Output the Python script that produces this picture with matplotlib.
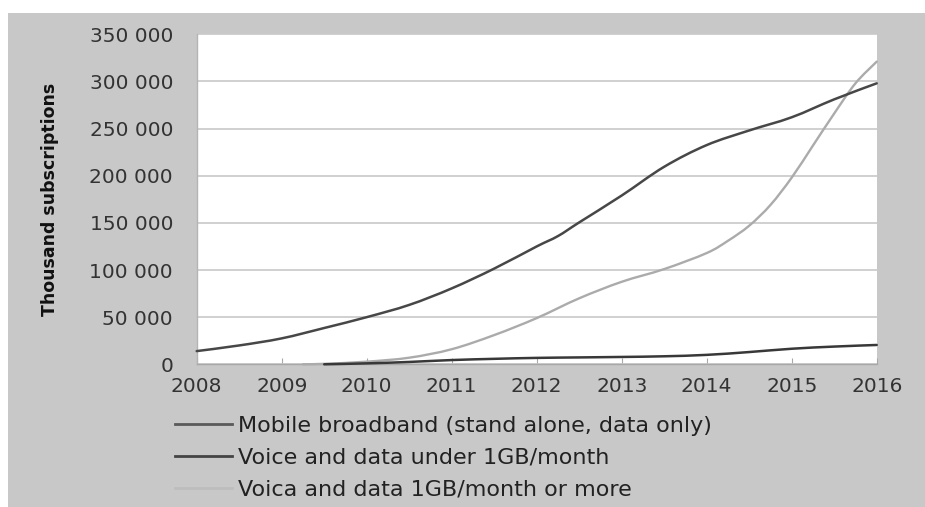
import matplotlib
matplotlib.use("Agg")
import matplotlib.pyplot as plt
from matplotlib.patches import Rectangle, PathPatch
from matplotlib.path import Path
from matplotlib.lines import Line2D
from matplotlib.ticker import FuncFormatter, MultipleLocator

# ---- data (thousand subscriptions) ----
mbb_x = [2008.0, 2008.5, 2009.0, 2009.5, 2010.0, 2010.5, 2011.0, 2011.5, 2012.0, 2012.25,
         2012.5, 2013.0, 2013.5, 2014.0, 2014.5, 2015.0, 2015.5, 2016.0]
mbb_y = [14000, 20000, 27500, 38500, 50000, 63000, 80500, 101500, 125000, 136000,
         150500, 179000, 209500, 232500, 248000, 262000, 281000, 298000]

low_x = [2009.5, 2010.0, 2010.5, 2011.0, 2011.5, 2012.0, 2012.5, 2013.0, 2013.5,
         2014.0, 2014.5, 2015.0, 2015.5, 2016.0]
low_y = [0, 1000, 2500, 4500, 5800, 6800, 7300, 7800, 8500,
         10000, 13000, 16500, 18800, 20500]

high_x = [2009.25, 2009.5, 2010.0, 2010.5, 2011.0, 2011.5, 2012.0, 2012.5, 2013.0, 2013.5,
          2014.0, 2014.25, 2014.5, 2014.75, 2015.0, 2015.25, 2015.5, 2015.75, 2016.0]
high_y = [0, 500, 2800, 7000, 16000, 31000, 49000, 70000, 87500, 101000,
          118000, 131000, 147000, 169000, 198000, 232000, 266000, 298000, 321000]

labels = ["Mobile broadband (stand alone, data only)",
          "Voice and data under 1GB/month",
          "Voica and data 1GB/month or more"]
years = list(range(2008, 2017))


def smooth_path(xs, ys):
    """Excel-like smoothed line through the data points (Catmull-Rom as cubic Beziers)."""
    pts = list(zip(xs, ys))
    n = len(pts)
    verts = [pts[0]]
    codes = [Path.MOVETO]
    for i in range(n - 1):
        p0 = pts[i - 1] if i > 0 else pts[i]
        p1 = pts[i]
        p2 = pts[i + 1]
        p3 = pts[i + 2] if i + 2 < n else pts[i + 1]
        c1 = (p1[0] + (p2[0] - p0[0]) / 6, p1[1] + (p2[1] - p0[1]) / 6)
        c2 = (p2[0] - (p3[0] - p1[0]) / 6, p2[1] - (p3[1] - p1[1]) / 6)
        verts += [c1, c2, p2]
        codes += [Path.CURVE4] * 3
    return Path(verts, codes)


W, H = 925, 507
fig = plt.figure(figsize=(W / 100, H / 100), dpi=100)
fig.patch.set_facecolor("white")
fig.patches.append(Rectangle((8 / W, 0), 1 - 8 / W, 1 - 12.7 / H, transform=fig.transFigure,
                             facecolor="#c8c8c8", edgecolor="none", zorder=-5))

ax = fig.add_axes([196.7 / W, 1 - 364.3 / H, 680 / W, 330 / H])
ax.set_zorder(2)
ax.set_facecolor("white")

series = [(mbb_x, mbb_y, "#474747", 1.8, 4),
          (low_x, low_y, "#383838", 1.8, 4),
          (high_x, high_y, "#ababab", 1.7, 3)]
for xs, ys, c, lw, z in series:
    ax.add_patch(PathPatch(smooth_path(xs, ys), facecolor="none", edgecolor=c, lw=lw,
                           capstyle="round", joinstyle="round", zorder=z, clip_on=False))

ax.set_xlim(2008, 2016)
ax.set_ylim(0, 350000)
ax.set_xticks(years)
ax.set_xticklabels([str(y) for y in years])
ax.yaxis.set_major_locator(MultipleLocator(50000))
ax.yaxis.set_major_formatter(FuncFormatter(lambda v, p: f"{int(v):,}".replace(",", " ")))

ax.grid(axis="y", color="#c8c8c8", lw=1.2, zorder=1)
ax.set_axisbelow(True)
for s in ["top", "right"]:
    ax.spines[s].set_visible(False)
ax.spines["left"].set_color("#b4b4b4")
ax.spines["bottom"].set_color("#a8a8a8")
ax.spines["left"].set_linewidth(1.0)
ax.spines["bottom"].set_linewidth(1.0)

ax.tick_params(axis="y", length=0, pad=17, labelsize=14.5, labelcolor="#333333")
ax.tick_params(axis="x", direction="in", length=4, color="#a8a8a8", pad=9,
               labelsize=14.5, labelcolor="#333333")

fig.text(50 / W, 1 - 199 / H, "Thousand subscriptions", rotation=90, ha="center", va="center",
         fontsize=12.5, fontweight="bold", color="#111111", family="DejaVu Sans")

handles = [Line2D([], [], color=c, lw=2.0) for c in ["#5a5a5a", "#444444", "#bdbdbd"]]
leg = fig.legend(handles, labels, loc="upper left",
                 bbox_to_anchor=(175 / W, 1 - 415.5 / H), frameon=False,
                 fontsize=16, handlelength=2.55, handletextpad=0.27,
                 labelspacing=0.55, borderpad=0, borderaxespad=0)
for t in leg.get_texts():
    t.set_color("#222222")

fig.savefig("out.png", dpi=100, facecolor=fig.get_facecolor())
